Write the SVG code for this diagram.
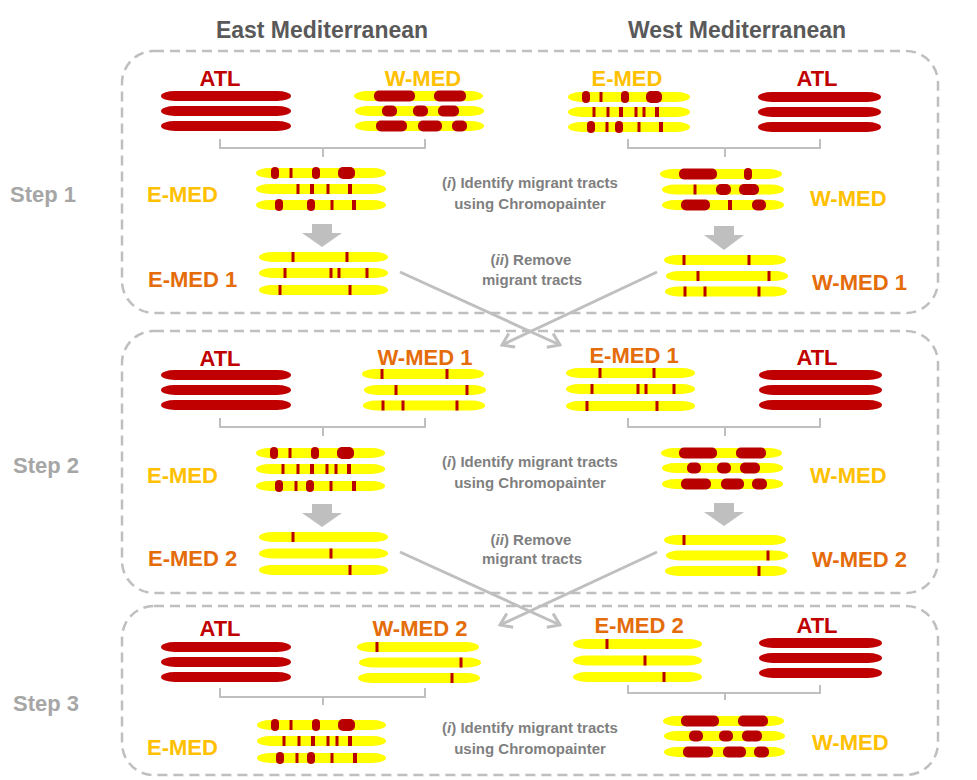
<svg xmlns="http://www.w3.org/2000/svg" width="977" height="780" viewBox="0 0 977 780">
<style>
text{font-family:"Liberation Sans",Arial,sans-serif;font-weight:bold}
.hd{font-size:23px;fill:#595959;text-anchor:middle}
.st{font-size:22px;fill:#A6A6A6}
.lb{font-size:22px}
.atl{fill:#C00000}
.wm{fill:#FFC000}
.or{fill:#E46C0A}
.c{text-anchor:middle}
.nt{font-size:15px;fill:#7F7F7F;text-anchor:middle}
.box{fill:none;stroke:#BFBFBF;stroke-width:2.5;stroke-dasharray:10 6}
.br{fill:none;stroke:#BFBFBF;stroke-width:2}
.da{fill:#BFBFBF}
.cx{fill:none;stroke:#BFBFBF;stroke-width:3;marker-end:url(#ah)}
.y{fill:#FFFF00}
.r{fill:#C00000}
.m{fill:#B80000}
</style>
<defs>
<marker id="ah" viewBox="-14 -9 16 18" markerWidth="16" markerHeight="18" refX="0" refY="0" orient="auto" markerUnits="userSpaceOnUse">
<path d="M-11,-7.5 L0,0 L-11,7.5" fill="none" stroke="#BFBFBF" stroke-width="3"/>
</marker>
<g id="p-atl130">
<rect class="r" x="0" y="-5" width="130" height="10" rx="14" ry="5"/>
<rect class="r" x="0" y="10" width="130" height="10" rx="14" ry="5"/>
<rect class="r" x="0" y="25" width="130" height="10" rx="14" ry="5"/>
</g>
<g id="p-atl123">
<rect class="r" x="0" y="-5" width="123" height="10" rx="14" ry="5"/>
<rect class="r" x="0" y="10" width="123" height="10" rx="14" ry="5"/>
<rect class="r" x="0" y="25" width="123" height="10" rx="14" ry="5"/>
</g>
<g id="p-wmedA">
<rect class="y" x="0" y="-5" width="129" height="10" rx="14" ry="5"/>
<rect class="m" x="20" y="-5.5" width="41" height="11" rx="5"/>
<rect class="m" x="80" y="-5.5" width="32" height="11" rx="5"/>
<rect class="y" x="1" y="10" width="129" height="10" rx="14" ry="5"/>
<rect class="m" x="28" y="9.5" width="15" height="11" rx="5"/>
<rect class="m" x="59" y="9.5" width="15" height="11" rx="5"/>
<rect class="m" x="84" y="9.5" width="21" height="11" rx="5"/>
<rect class="y" x="1" y="25" width="129" height="10" rx="14" ry="5"/>
<rect class="m" x="22" y="24.5" width="31" height="11" rx="5"/>
<rect class="m" x="64" y="24.5" width="24" height="11" rx="5"/>
<rect class="m" x="98" y="24.5" width="15" height="11" rx="5"/>
</g>
<g id="p-wmedB">
<rect class="y" x="0" y="-5" width="121" height="10" rx="14" ry="5"/>
<rect class="m" x="18" y="-5.5" width="38" height="11" rx="5"/>
<rect class="m" x="75" y="-5.5" width="30" height="11" rx="5"/>
<rect class="y" x="1" y="10" width="121" height="10" rx="14" ry="5"/>
<rect class="m" x="26" y="9.5" width="14" height="11" rx="5"/>
<rect class="m" x="56" y="9.5" width="14" height="11" rx="5"/>
<rect class="m" x="79" y="9.5" width="20" height="11" rx="5"/>
<rect class="y" x="1" y="26" width="121" height="10" rx="14" ry="5"/>
<rect class="m" x="20" y="25.5" width="30" height="11" rx="5"/>
<rect class="m" x="60" y="25.5" width="23" height="11" rx="5"/>
<rect class="m" x="91" y="25.5" width="15" height="11" rx="5"/>
</g>
<g id="p-wmedR1">
<rect class="y" x="0" y="-5" width="122" height="10" rx="14" ry="5"/>
<rect class="m" x="19" y="-5.5" width="38" height="11" rx="5"/>
<rect class="m" x="84" y="-6" width="8" height="12" rx="4"/>
<rect class="y" x="2" y="10.5" width="122" height="10" rx="14" ry="5"/>
<rect class="m" x="33.5" y="10.5" width="3" height="10"/>
<rect class="m" x="56" y="10" width="15" height="11" rx="5"/>
<rect class="m" x="79" y="10" width="20" height="11" rx="5"/>
<rect class="y" x="2" y="26" width="122" height="10" rx="14" ry="5"/>
<rect class="m" x="21" y="25.5" width="29" height="11" rx="5"/>
<rect class="m" x="68" y="26" width="4" height="10"/>
<rect class="m" x="92" y="25.5" width="14" height="11" rx="5"/>
</g>
<g id="p-wmed1">
<rect class="y" x="0" y="-5" width="122" height="10" rx="14" ry="5"/>
<rect class="m" x="18.5" y="-5" width="3" height="10"/>
<rect class="m" x="83.5" y="-5" width="3" height="10"/>
<rect class="y" x="2" y="11" width="122" height="10" rx="14" ry="5"/>
<rect class="m" x="32.5" y="11" width="3" height="10"/>
<rect class="m" x="103.5" y="11" width="3" height="10"/>
<rect class="y" x="1" y="26.5" width="122" height="10" rx="14" ry="5"/>
<rect class="m" x="19.5" y="26.5" width="3" height="10"/>
<rect class="m" x="39.5" y="26.5" width="3" height="10"/>
<rect class="m" x="93.5" y="26.5" width="3" height="10"/>
</g>
<g id="p-wmed2">
<rect class="y" x="0" y="-5" width="122" height="10" rx="14" ry="5"/>
<rect class="m" x="18.5" y="-5" width="3" height="10"/>
<rect class="y" x="2" y="10.5" width="122" height="10" rx="14" ry="5"/>
<rect class="m" x="102.5" y="10.5" width="3" height="10"/>
<rect class="y" x="1" y="26" width="122" height="10" rx="14" ry="5"/>
<rect class="m" x="93.5" y="26" width="3" height="10"/>
</g>
<g id="p-emedA">
<rect class="y" x="0" y="-5" width="130" height="10" rx="14" ry="5"/>
<rect class="m" x="15" y="-6" width="8" height="12" rx="4"/>
<rect class="m" x="33.5" y="-5" width="3" height="10"/>
<rect class="m" x="56" y="-6" width="8" height="12" rx="4"/>
<rect class="m" x="82" y="-6" width="17" height="12" rx="5"/>
<rect class="y" x="0" y="11" width="130" height="10" rx="14" ry="5"/>
<rect class="m" x="40.5" y="11" width="3" height="10"/>
<rect class="m" x="54" y="11" width="4" height="10"/>
<rect class="m" x="70.5" y="11" width="3" height="10"/>
<rect class="m" x="92" y="11" width="4" height="10"/>
<rect class="y" x="0" y="27" width="130" height="10" rx="14" ry="5"/>
<rect class="m" x="19" y="26" width="8" height="12" rx="4"/>
<rect class="m" x="51" y="26" width="8" height="12" rx="4"/>
<rect class="m" x="74.5" y="27" width="3" height="10"/>
<rect class="m" x="96" y="27" width="4" height="10"/>
</g>
<g id="p-emedR1">
<rect class="y" x="0" y="-5" width="122" height="10" rx="14" ry="5"/>
<rect class="m" x="14" y="-6" width="8" height="12" rx="4"/>
<rect class="m" x="31.5" y="-5" width="3" height="10"/>
<rect class="m" x="53" y="-6" width="8" height="12" rx="4"/>
<rect class="m" x="78" y="-6" width="16" height="12" rx="5"/>
<rect class="y" x="0" y="10" width="122" height="10" rx="14" ry="5"/>
<rect class="m" x="24.5" y="10" width="3" height="10"/>
<rect class="m" x="38.5" y="10" width="3" height="10"/>
<rect class="m" x="51" y="10" width="4" height="10"/>
<rect class="m" x="66.5" y="10" width="3" height="10"/>
<rect class="m" x="74.5" y="10" width="3" height="10"/>
<rect class="m" x="87" y="10" width="4" height="10"/>
<rect class="y" x="0" y="25" width="122" height="10" rx="14" ry="5"/>
<rect class="m" x="19" y="24" width="8" height="12" rx="4"/>
<rect class="m" x="37.5" y="25" width="3" height="10"/>
<rect class="m" x="47" y="24" width="8" height="12" rx="4"/>
<rect class="m" x="69.5" y="25" width="3" height="10"/>
<rect class="m" x="91" y="25" width="4" height="10"/>
</g>
<g id="p-emedB">
<rect class="y" x="0" y="-5" width="129" height="10" rx="14" ry="5"/>
<rect class="m" x="14" y="-6" width="8" height="12" rx="4"/>
<rect class="m" x="32.5" y="-5" width="3" height="10"/>
<rect class="m" x="55" y="-6" width="8" height="12" rx="4"/>
<rect class="m" x="81" y="-6" width="17" height="12" rx="5"/>
<rect class="y" x="0" y="11" width="129" height="10" rx="14" ry="5"/>
<rect class="m" x="25.5" y="11" width="3" height="10"/>
<rect class="m" x="40.5" y="11" width="3" height="10"/>
<rect class="m" x="54" y="11" width="4" height="10"/>
<rect class="m" x="69.5" y="11" width="3" height="10"/>
<rect class="m" x="78.5" y="11" width="3" height="10"/>
<rect class="m" x="91" y="11" width="4" height="10"/>
<rect class="y" x="0" y="28" width="129" height="10" rx="14" ry="5"/>
<rect class="m" x="19" y="27" width="8" height="12" rx="4"/>
<rect class="m" x="38.5" y="28" width="3" height="10"/>
<rect class="m" x="50" y="27" width="8" height="12" rx="4"/>
<rect class="m" x="73.5" y="28" width="3" height="10"/>
<rect class="m" x="96" y="28" width="4" height="10"/>
</g>
<g id="p-emed1">
<rect class="y" x="0" y="-5" width="129" height="10" rx="14" ry="5"/>
<rect class="m" x="32.5" y="-5" width="3" height="10"/>
<rect class="m" x="86.5" y="-5" width="3" height="10"/>
<rect class="y" x="0" y="11" width="129" height="10" rx="14" ry="5"/>
<rect class="m" x="24.5" y="11" width="3" height="10"/>
<rect class="m" x="70.5" y="11" width="3" height="10"/>
<rect class="m" x="78.5" y="11" width="3" height="10"/>
<rect class="m" x="106.5" y="11" width="3" height="10"/>
<rect class="y" x="0" y="28" width="129" height="10" rx="14" ry="5"/>
<rect class="m" x="19.5" y="28" width="3" height="10"/>
<rect class="m" x="89.5" y="28" width="3" height="10"/>
</g>
<g id="p-emed2">
<rect class="y" x="0" y="-5" width="129" height="10" rx="14" ry="5"/>
<rect class="m" x="32.5" y="-5" width="3" height="10"/>
<rect class="y" x="0" y="11.5" width="129" height="10" rx="14" ry="5"/>
<rect class="m" x="70.5" y="11.5" width="3" height="10"/>
<rect class="y" x="0" y="28" width="129" height="10" rx="14" ry="5"/>
<rect class="m" x="89.5" y="28" width="3" height="10"/>
</g>
</defs>

<g id="headers">
<text class="hd" x="322" y="38">East Mediterranean</text>
<text class="hd" x="737" y="38">West Mediterranean</text>
</g>

<g id="frames">
<rect class="box" x="122" y="51" width="816" height="262" rx="32"/>
<rect class="box" x="122" y="331" width="816" height="262" rx="32"/>
<rect class="box" x="122" y="606" width="816" height="169" rx="32"/>
<text class="st" x="10" y="202">Step 1</text>
<text class="st" x="13" y="473">Step 2</text>
<text class="st" x="13" y="711">Step 3</text>
</g>

<g id="notes">
<text class="nt" x="530" y="188">(<tspan font-style="italic">i</tspan>) Identify migrant tracts</text>
<text class="nt" x="530" y="209">using Chromopainter</text>
<text class="nt" x="531" y="265">(<tspan font-style="italic">ii</tspan>) Remove</text>
<text class="nt" x="532" y="285">migrant tracts</text>
<text class="nt" x="530" y="467">(<tspan font-style="italic">i</tspan>) Identify migrant tracts</text>
<text class="nt" x="530" y="488">using Chromopainter</text>
<text class="nt" x="531" y="545">(<tspan font-style="italic">ii</tspan>) Remove</text>
<text class="nt" x="532" y="564">migrant tracts</text>
<text class="nt" x="530" y="733">(<tspan font-style="italic">i</tspan>) Identify migrant tracts</text>
<text class="nt" x="530" y="754">using Chromopainter</text>
</g>

<g id="connectors">
<path class="br" d="M220,139 V148 H425 V139 M323,148 V157"/>
<path class="br" d="M628,139 V148 H820 V139 M725,148 V157"/>
<path class="br" d="M220,418 V427 H425 V418 M323,427 V436"/>
<path class="br" d="M628,418 V427 H820 V418 M725,427 V436"/>
<path class="br" d="M220,688 V697 H425 V688 M323,697 V705"/>
<path class="br" d="M628,685 V693 H820 V685 M725,693 V700"/>
<polygon class="da" points="312,224 332,224 332,233 342,233 322,247 302,233 312,233"/>
<polygon class="da" points="714,226 734,226 734,235 744,235 724,250 704,235 714,235"/>
<polygon class="da" points="312,504 332,504 332,513 342,513 322,527 302,513 312,513"/>
<polygon class="da" points="714,503 734,503 734,512 744,512 724,526 704,512 714,512"/>
<line class="cx" x1="400" y1="272" x2="560" y2="345"/>
<line class="cx" x1="657" y1="272" x2="502" y2="345"/>
<line class="cx" x1="400" y1="552" x2="560" y2="625"/>
<line class="cx" x1="657" y1="552" x2="500" y2="625"/>
</g>

<g id="s1-atl-east"><text class="lb atl c" x="220" y="86">ATL</text><use href="#p-atl130" x="161" y="96"/></g>
<g id="s1-wmed-east"><text class="lb wm c" x="423" y="86">W-MED</text><use href="#p-wmedA" x="354" y="96"/></g>
<g id="s1-emed-west"><text class="lb wm c" x="627" y="86">E-MED</text><use href="#p-emedR1" x="568" y="97"/></g>
<g id="s1-atl-west"><text class="lb atl c" x="817" y="86">ATL</text><use href="#p-atl123" x="758" y="97"/></g>
<g id="s1-emed"><text class="lb wm" x="147" y="202">E-MED</text><use href="#p-emedA" x="256" y="173"/></g>
<g id="s1-emed1"><text class="lb or" x="148" y="287">E-MED 1</text><use href="#p-emed1" x="259" y="257"/></g>
<g id="s1-wmed"><text class="lb wm" x="810" y="206">W-MED</text><use href="#p-wmedR1" x="660" y="174"/></g>
<g id="s1-wmed1"><text class="lb or" x="812" y="290">W-MED 1</text><use href="#p-wmed1" x="664" y="260"/></g>

<g id="s2-atl-east"><text class="lb atl c" x="220" y="366">ATL</text><use href="#p-atl130" x="161" y="375"/></g>
<g id="s2-wmed1-east"><text class="lb or c" x="425" y="365">W-MED 1</text><use href="#p-wmed1" x="362" y="374"/></g>
<g id="s2-emed1-west"><text class="lb or c" x="634" y="363">E-MED 1</text><use href="#p-emed1" x="566" y="373"/></g>
<g id="s2-atl-west"><text class="lb atl c" x="817" y="365">ATL</text><use href="#p-atl123" x="759" y="375"/></g>
<g id="s2-emed"><text class="lb wm" x="147" y="483">E-MED</text><use href="#p-emedB" x="256" y="453"/></g>
<g id="s2-emed2"><text class="lb or" x="148" y="566">E-MED 2</text><use href="#p-emed2" x="259" y="537"/></g>
<g id="s2-wmed"><text class="lb wm" x="810" y="483">W-MED</text><use href="#p-wmedB" x="661" y="453"/></g>
<g id="s2-wmed2"><text class="lb or" x="812" y="567">W-MED 2</text><use href="#p-wmed2" x="664" y="540"/></g>

<g id="s3-atl-east"><text class="lb atl c" x="220" y="636">ATL</text><use href="#p-atl130" x="161" y="647"/></g>
<g id="s3-wmed2-east"><text class="lb or c" x="420" y="636">W-MED 2</text><use href="#p-wmed2" x="357" y="647"/></g>
<g id="s3-emed2-west"><text class="lb or c" x="639" y="633">E-MED 2</text><use href="#p-emed2" x="573" y="644"/></g>
<g id="s3-atl-west"><text class="lb atl c" x="817" y="633">ATL</text><use href="#p-atl123" x="759" y="643"/></g>
<g id="s3-emed"><text class="lb wm" x="147" y="755">E-MED</text><use href="#p-emedB" x="257" y="725"/></g>
<g id="s3-wmed"><text class="lb wm" x="812" y="750">W-MED</text><use href="#p-wmedB" x="663" y="721"/></g>
</svg>
